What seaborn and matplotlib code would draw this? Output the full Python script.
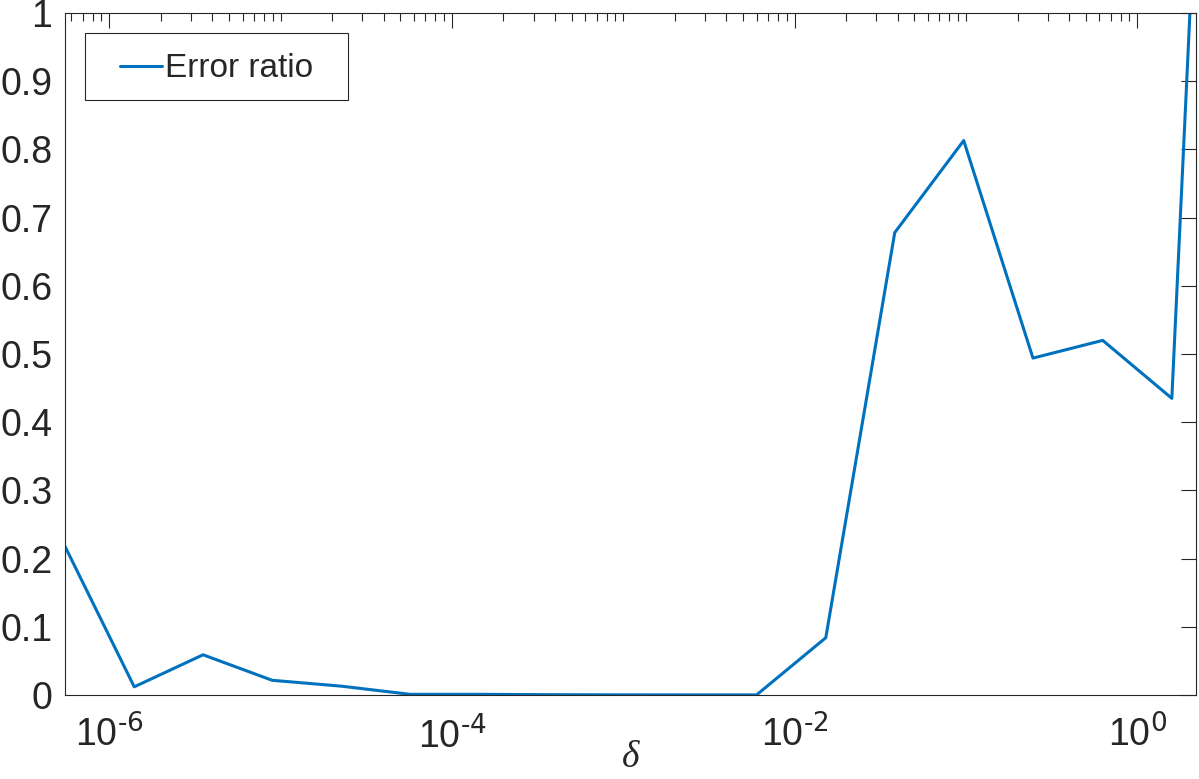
import numpy as np
import pandas as pd
import seaborn as sns
import matplotlib
matplotlib.use("Agg")
import matplotlib.pyplot as plt
from matplotlib.patches import Rectangle
from matplotlib.ticker import FixedLocator, LogLocator, FuncFormatter, NullFormatter

# values
delta = [5.52e-7, 1.40e-6, 3.53e-6, 8.93e-6, 2.26e-5, 5.71e-5, 1.47e-4, 3.71e-4,
         9.37e-4, 2.37e-3, 6.0e-3, 1.52e-2, 3.84e-2, 9.7e-2, 0.246, 0.628, 1.59, 2.2]
error_ratio = [0.218, 0.012, 0.059, 0.0216, 0.013, 0.001, 0.001, 0.0005,
               0.0003, 0.0002, 0.0002, 0.084, 0.678, 0.813, 0.494, 0.52, 0.435, 1.19]
major_ticks = [1e-6, 1e-4, 1e-2, 1e0]
y_ticks = [0, 0.1, 0.2, 0.3, 0.4, 0.5, 0.6, 0.7, 0.8, 0.9, 1]

df = pd.DataFrame({"delta": delta, "ratio": error_ratio})

sns.set_style("white")
plt.rcParams['font.family'] = ['Liberation Sans', 'DejaVu Sans']
plt.rcParams['mathtext.default'] = 'regular'

fig = plt.figure(figsize=(11.99, 7.79), dpi=100)
ax = fig.add_axes([0.0542, 0.1078, 0.9433, 0.8755])

sns.lineplot(data=df, x="delta", y="ratio", color="#0072BD", linewidth=2.2,
             label="Error ratio", ax=ax)

ax.set_xscale("log")
ax.set_xlim(delta[0], delta[-1])
ax.set_ylim(0, 1)

# ticks, MATLAB style
ax.xaxis.set_major_locator(FixedLocator(major_ticks))
ax.xaxis.set_minor_locator(LogLocator(base=10, subs=np.arange(1, 10), numticks=50))
ax.xaxis.set_major_formatter(
    FuncFormatter(lambda v, p: r"$10^{\text{%d}}$" % round(np.log10(v))))
ax.xaxis.set_minor_formatter(NullFormatter())
ax.set_yticks(y_ticks)
ax.yaxis.set_major_formatter(FuncFormatter(lambda v, p: "%g" % v))

ax.tick_params(which="both", direction="in", top=True, right=True,
               color="#262626", labelcolor="#262626", width=0.8)
ax.tick_params(which="major", length=11, labelsize=27)
ax.tick_params(which="minor", length=6)
ax.tick_params(axis="x", pad=15)
ax.tick_params(axis="y", pad=9)

for s in ax.spines.values():
    s.set_color("#262626")
    s.set_linewidth(0.8)

ax.set_xlabel("δ", family="Liberation Serif", style="italic", fontsize=27,
              color="#262626", labelpad=-11)
ax.set_ylabel("")

# legend with a wide MATLAB-like box
leg = ax.legend(loc="center left", fontsize=24, frameon=False,
                handlelength=1.25, handletextpad=0.1, borderpad=0, borderaxespad=0,
                bbox_to_anchor=(0.0487, 0.918))
ax.add_patch(Rectangle((0.0177, 0.8724), 0.2325, 0.0983, transform=ax.transAxes,
                       fill=False, edgecolor="#262626", linewidth=0.8, zorder=5))

fig.savefig("out.png", dpi=100)
